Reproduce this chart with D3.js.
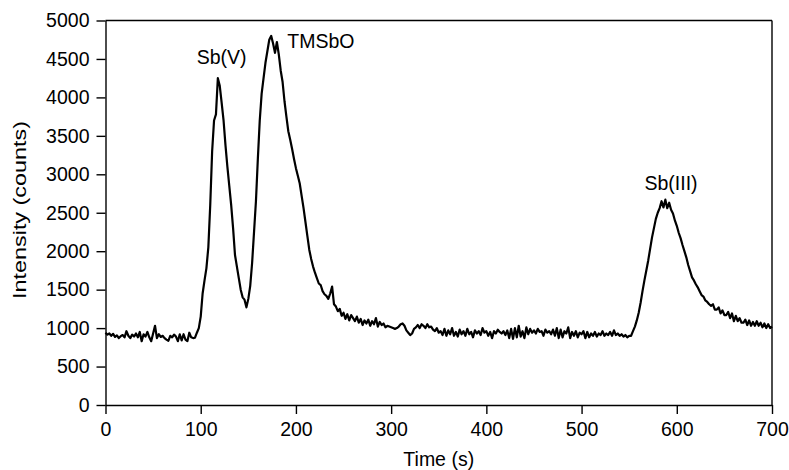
<!DOCTYPE html>
<html>
<head>
<meta charset="utf-8">
<script src="https://cdn.jsdelivr.net/npm/d3@7"></script>
<style>
  body { margin: 0; background: #fff; }
  text { font-family: "Liberation Sans", Arial, sans-serif; fill: #000; }
</style>
</head>
<body>
<div id="chart"></div>
<script>
var timeStep = 2;

var intensity = [
    // 0 - 94 s baseline
    940, 915, 930, 900, 925, 885, 905, 870, 895, 910,
    880, 960, 900, 870, 915, 890, 930, 880, 950, 830,
    920, 890, 950, 880, 830, 930, 1030, 870, 920, 885,
    900, 870, 850, 835, 900, 880, 915, 890, 830, 920,
    840, 920, 850, 830, 940, 880, 870, 875,
    // 96 - 150 s Sb(V)
    940, 1000, 1150, 1450, 1620, 1780, 2050, 2600, 3300, 3700,
    3780, 4250, 4150, 3930, 3700, 3380, 3100, 2850, 2600, 2300,
    1950, 1800, 1650, 1500, 1400, 1370, 1270, 1380,
    // 152 - 210 s TMSbO
    1550, 1850, 2250, 2650, 3200, 3700, 4050, 4250, 4450, 4600,
    4750, 4800, 4700, 4580, 4720, 4560, 4350, 4200, 3950, 3750,
    3560, 3450, 3330, 3200, 3080, 2980, 2880, 2720, 2560, 2380,
    // 212 - 260 s tail
    2200, 2020, 1900, 1800, 1720, 1650, 1580, 1560, 1480, 1440,
    1420, 1380, 1450, 1540, 1310, 1280, 1220, 1250, 1160, 1200,
    1120, 1180, 1100, 1170, 1130,
    // 262 - 350 s
    1090, 1150, 1070, 1120, 1040, 1100, 1060, 1110, 1030, 1090,
    1050, 1130, 1020, 1080, 1040, 1060, 1010, 1030, 1020, 1010,
    1000, 990, 1000, 1020, 1050, 1060, 1030, 970, 940, 910,
    930, 990, 1010, 1040, 1000, 1050, 1030, 1000, 1050, 1010,
    1020, 980, 960, 1000, 940,
    // 352 - 550 s baseline
    960, 910, 990, 900, 970, 920, 1000, 900, 950, 890,
    980, 920, 960, 900, 990, 920, 950, 880, 970, 930,
    960, 910, 1000, 940, 960, 900, 950, 870, 960, 930,
    980, 950, 930, 960, 910, 970, 870, 990, 860, 1000,
    880, 1030, 890, 960, 870, 1010, 920, 990, 940, 970,
    930, 990, 950, 960, 900, 980, 940, 960, 920, 980,
    900, 1000, 870, 980, 880, 960, 930, 1010, 870, 950,
    900, 960, 880, 940, 920, 960, 870, 950, 880, 930,
    900, 950, 890, 930, 910, 960, 900, 930, 910, 950,
    900, 970, 910, 930, 900, 920, 890, 910, 880, 900,
    // 552 - 600 s Sb(III)
    900, 960, 1020, 1100, 1200, 1330, 1480, 1620, 1750, 1880,
    2030, 2180, 2300, 2420, 2500, 2560, 2650, 2570, 2670, 2560,
    2630, 2540, 2490, 2400, 2330,
    // 602 - 700 s tail
    2240, 2170, 2080, 2000, 1920, 1820, 1740, 1660, 1620, 1570,
    1530, 1480, 1430, 1410, 1360, 1340, 1310, 1290, 1310, 1240,
    1240, 1270, 1190, 1230, 1170, 1170, 1210, 1130, 1190, 1090,
    1160, 1090, 1130, 1070, 1070, 1110, 1040, 1100, 1030, 1080,
    1030, 1090, 1030, 1070, 1010, 1060, 1000, 1050, 1000, 1020
];

var xTicks = [0, 100, 200, 300, 400, 500, 600, 700];
var yTicks = [0, 500, 1000, 1500, 2000, 2500, 3000, 3500, 4000, 4500, 5000];

var peakNames = ["Sb(V)", "TMSbO", "Sb(III)"];
var peakTimes = [122, 191, 594];
var peakLevels = [4440, 4636, 2792];
var peakAnchors = ["middle", "start", "middle"];

var width = 789,
    height = 470,
    margin = {top: 20.5, right: 17, bottom: 65, left: 105.5},
    fontSize = "19.5px";

var svg = d3.select("#chart")
    .append("svg")
    .attr("width", width)
    .attr("height", height);

var x = d3.scaleLinear()
    .domain([0, 700])
    .range([margin.left, width - margin.right]);

var y = d3.scaleLinear()
    .domain([0, 5000])
    .range([height - margin.bottom, margin.top]);

var data = intensity.map(function(v, i) {
    return {t: i * timeStep, v: v};
});

// frame: top and right edges
svg.append("line")
    .attr("x1", x(0)).attr("x2", x(700))
    .attr("y1", y(5000)).attr("y2", y(5000))
    .attr("stroke", "#000").attr("stroke-width", 1.4);
svg.append("line")
    .attr("x1", x(700)).attr("x2", x(700))
    .attr("y1", y(5000)).attr("y2", y(0))
    .attr("stroke", "#000").attr("stroke-width", 1.4);

var xAxis = svg.append("g")
    .attr("transform", "translate(0," + y(0) + ")")
    .call(d3.axisBottom(x).tickValues(xTicks).tickFormat(d3.format("d"))
        .tickSize(9).tickPadding(8).tickSizeOuter(0));

var yAxis = svg.append("g")
    .attr("transform", "translate(" + x(0) + ",0)")
    .call(d3.axisLeft(y).tickValues(yTicks).tickFormat(d3.format("d"))
        .tickSize(9).tickPadding(7).tickSizeOuter(0));

[xAxis, yAxis].forEach(function(g) {
    g.selectAll("path, line").attr("stroke", "#000").attr("stroke-width", 1.4);
    g.selectAll("text")
        .style("font-family", "'Liberation Sans', Arial, sans-serif")
        .style("font-size", fontSize)
        .attr("fill", "#000");
});

// the trace
svg.append("path")
    .datum(data)
    .attr("fill", "none")
    .attr("stroke", "#000")
    .attr("stroke-width", 2.2)
    .attr("stroke-linejoin", "round")
    .attr("d", d3.line()
        .x(function(d) { return x(d.t); })
        .y(function(d) { return y(d.v); }));

// peak labels
peakNames.forEach(function(name, i) {
    svg.append("text")
        .attr("x", x(peakTimes[i]))
        .attr("y", y(peakLevels[i]))
        .attr("text-anchor", peakAnchors[i])
        .style("font-size", fontSize)
        .text(name);
});

// axis titles
svg.append("text")
    .attr("x", x(350))
    .attr("y", 466)
    .attr("text-anchor", "middle")
    .style("font-size", fontSize)
    .text("Time (s)");

svg.append("text")
    .attr("transform", "translate(26,210) rotate(-90)")
    .attr("text-anchor", "middle")
    .attr("textLength", 178)
    .attr("lengthAdjust", "spacingAndGlyphs")
    .style("font-size", "19px")
    .text("Intensity (counts)");
</script>
</body>
</html>
